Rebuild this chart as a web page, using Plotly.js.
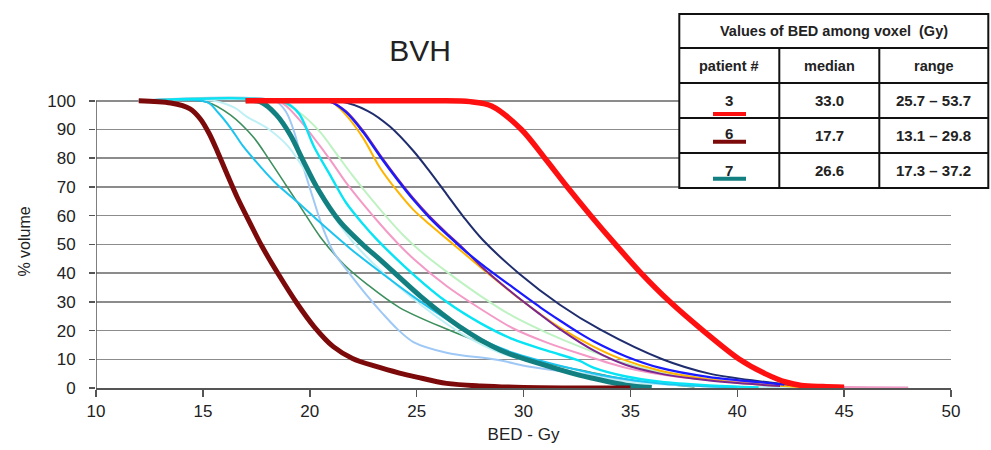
<!DOCTYPE html>
<html>
<head>
<meta charset="utf-8">
<script src="https://cdn.plot.ly/plotly-3.0.1.min.js"></script>
<style>
html,body{margin:0;padding:0;background:#fff;}
#chart{width:991px;height:450px;}
</style>
</head>
<body>
<div id="chart"></div>
<script>
// ---------- DATA ----------
const xTicks = [10, 15, 20, 25, 30, 35, 40, 45, 50];
const yTicks = [0, 10, 20, 30, 40, 50, 60, 70, 80, 90, 100];

// thin curves (other patients)
const seaGreen_x = [12, 15.2, 16.3, 17.4, 18.1, 18.9, 19.7, 20.5, 21.6, 22.7, 24.2, 26.4, 28, 29.5, 31.1, 32.6, 35, 38];
const seaGreen_y = [100, 99.5, 95, 87, 79.5, 70.5, 61.5, 52.5, 43, 36, 28, 20.5, 15.8, 11.8, 8.6, 6.3, 2.8, 0.4];

const skyBlue_x = [12, 15.2, 15.7, 16.3, 16.9, 17.7, 18.45, 19.4, 20.5, 21.9, 23.1, 24.85, 26.4, 28, 29.5, 31.9, 34, 36.5, 40];
const skyBlue_y = [100, 99.5, 96, 90.5, 84, 77, 71, 64.9, 57.5, 48.5, 41.5, 31.8, 24, 17, 12.3, 7.4, 4, 1.5, 0.2];

const lightBlue_x = [12, 18.4, 18.9, 19.3, 19.7, 20.2, 20.6, 21.1, 21.9, 22.7, 23.4, 24.1, 24.85, 26.4, 28.75, 30.3, 32.6, 35, 38, 42];
const lightBlue_y = [100, 99.8, 96, 88.5, 77, 65, 56, 47.5, 39.5, 32, 26, 20.5, 16, 12.3, 9.8, 7.4, 5.1, 2.5, 0.8, 0.2];

const paleTurq_x = [12, 15.5, 16.5, 17.05, 18.1, 19, 20, 21, 22, 23.3, 24.85, 27.2, 29, 31, 33, 35, 38, 42, 48];
const paleTurq_y = [100, 100, 97.5, 94.5, 90, 84, 73, 61, 51, 41, 31, 18.5, 12, 8, 4.5, 2, 0.8, 0.3, 0.1];

const cyan_x = [12, 18.8, 19.5, 20.2, 21, 21.7, 22.5, 23.1, 24.85, 26.4, 28, 29.5, 31.1, 32.6, 33.3, 34.8, 36.4, 38.5, 41];
const cyan_y = [100, 99.5, 95.5, 84, 73.5, 64.5, 57, 52, 39.5, 30, 22.5, 17, 13, 9.5, 7, 4, 2.2, 1, 0.2];

const pink_x = [12, 18.5, 19, 19.5, 20.2, 21, 21.7, 22.5, 23.3, 24.1, 24.85, 26.4, 28, 29.5, 31.1, 32.6, 34.8, 37.2, 41.1, 44, 48];
const pink_y = [100, 100, 97.5, 93.5, 87, 79, 71.5, 64, 57, 50.5, 45, 35.5, 27.5, 20.8, 15.8, 12, 7, 3.9, 1.6, 0.5, 0.2];

const paleGreen_x = [12, 18.5, 19.5, 20.5, 21.2, 22, 22.8, 23.6, 24.4, 25.2, 26.4, 28, 29.5, 31.1, 32.6, 34.8, 37, 40, 43, 46];
const paleGreen_y = [100, 100, 96, 89, 82, 74, 66.5, 59.5, 53, 47.5, 40.5, 32, 25, 19.2, 14.5, 8.5, 4.5, 1.8, 0.5, 0.2];

const orange_x = [20, 21, 21.7, 22.5, 23.3, 24.1, 24.85, 25.6, 26.4, 27.2, 28.4, 30, 31.7, 33.3, 34.5, 36.4, 38.7, 41, 43];
const orange_y = [100, 99.6, 95, 87, 76.5, 68.5, 62, 57, 52, 47, 39.5, 30, 21, 14.3, 10.3, 6, 3, 1.2, 0.3];

const purple_x = [20, 21, 21.7, 22.5, 23.3, 24.1, 24.85, 25.6, 26.4, 27.1, 28, 29.5, 30.8, 31.7, 33.3, 34.8, 36.4, 38, 40, 42];
const purple_y = [100, 99.6, 96.3, 89.5, 81, 73, 66, 59.8, 54, 49.2, 42.5, 33, 25.5, 20.5, 13, 8, 5, 3.2, 1.7, 0.7];

const blue_x = [20, 21, 21.7, 22.5, 23.3, 24.1, 24.85, 25.6, 26.4, 27.1, 28, 29.5, 30.8, 31.7, 32.6, 33.3, 34.8, 36.4, 38.7, 41.1, 42.2];
const blue_y = [100, 99.5, 96, 89, 80.5, 72.5, 65.5, 59.3, 53.5, 48.8, 43.3, 35, 28, 23.5, 19.2, 16.2, 11, 7, 3.8, 2, 1.2];

const navy_x = [20, 21.4, 22.7, 23.75, 24.85, 25.6, 26.4, 27.2, 28.1, 29.8, 31.7, 33.6, 36.5, 38.7, 41.1, 43, 45];
const navy_y = [100, 99.8, 96.5, 91, 82.5, 75.5, 67.5, 59.5, 51.5, 39.8, 29, 20.3, 10, 5, 2.3, 0.7, 0.2];

// highlighted patients
const p7_x = [17, 17.7, 18.45, 19.1, 19.7, 20.4, 21.4, 22.5, 23.3, 25.2, 27, 28.9, 30.8, 32.6, 33.3, 34.8, 36];
const p7_y = [100, 99.6, 95, 88, 79, 69, 58, 49.8, 44.6, 31.8, 21.4, 13.2, 8.4, 4.5, 3.3, 1, 0.2];

const p6_x = [12, 13.5, 14.4, 14.9, 15.3, 15.7, 16.1, 16.6, 17.2, 17.75, 18.6, 19.4, 20.2, 21.1, 22, 23.1, 24.2, 25, 26.4, 28, 30, 35];
const p6_y = [100, 99.2, 97.2, 93.5, 88.5, 82, 75, 66.5, 57.5, 49.5, 38.8, 29.5, 21.4, 14.4, 10.3, 7.5, 5.2, 3.8, 1.6, 0.7, 0.2, 0];

const p3_x = [17, 24, 26, 27.5, 28.5, 29.9, 31.0, 32.05, 33.15, 34.3, 35.5, 36.85, 38.4, 40.1, 41.3, 42.3, 43, 44, 45];
const p3_y = [100, 100, 100, 99.7, 98.2, 90, 80, 70, 60, 50, 40, 30, 20, 10, 5, 2, 0.9, 0.5, 0.3];

// table content
const tableTitle = 'Values of BED among voxel  (Gy)';
const tableHeader = ['patient #', 'median', 'range'];
const patients = ['3', '6', '7'];
const medians = ['33.0', '17.7', '26.6'];
const ranges = ['25.7 \u2013 53.7', '13.1 \u2013 29.8', '17.3 \u2013 37.2'];

// ---------- STYLES ----------
const series = [
  {x: seaGreen_x, y: seaGreen_y, color: '#3d8f5e', width: 1.6},
  {x: lightBlue_x, y: lightBlue_y, color: '#9ec8f5', width: 2},
  {x: paleTurq_x, y: paleTurq_y, color: '#bff0f6', width: 2},
  {x: skyBlue_x, y: skyBlue_y, color: '#1cc4f0', width: 2},
  {x: paleGreen_x, y: paleGreen_y, color: '#bff2c2', width: 2},
  {x: pink_x, y: pink_y, color: '#f49ac6', width: 2},
  {x: cyan_x, y: cyan_y, color: '#08e4f4', width: 2.4},
  {x: orange_x, y: orange_y, color: '#ffb400', width: 2},
  {x: navy_x, y: navy_y, color: '#1f2d6e', width: 2},
  {x: purple_x, y: purple_y, color: '#7b2590', width: 2},
  {x: blue_x, y: blue_y, color: '#1a1aff', width: 2.2},
  {x: p7_x, y: p7_y, color: '#128080', width: 5},
  {x: p6_x, y: p6_y, color: '#7d0a0a', width: 5},
  {x: p3_x, y: p3_y, color: '#ff1010', width: 5.5}
];
const underlineColors = ['#ff1010', '#7d0a0a', '#128080'];

const traces = series.map(s => ({
  type: 'scatter', mode: 'lines', x: s.x, y: s.y,
  line: {color: s.color, width: s.width, shape: 'spline', smoothing: 0.9},
  hoverinfo: 'skip', showlegend: false
}));

// geometry (pixels -> paper)
const L = 96, R = 951, T = 95.26, B = 388;
const W = R - L, H = B - T;
const PX = p => (p - L) / W;
const PY = p => (B - p) / H;

const shapes = [];
const annotations = [];

// left axis line from 0 to 100
shapes.push({type: 'line', xref: 'x', yref: 'y', x0: 10, x1: 10, y0: 0, y1: 100,
  line: {color: '#555', width: 1.5}, layer: 'above'});

// table
const tL = 679.3, tR = 988.3, tT = 14.3, tB = 188.3;
const rowLines = [48.3, 83.3, 118.3, 153.3];
const colLines = [779.3, 879.3];
shapes.push({type: 'rect', xref: 'paper', yref: 'paper', x0: PX(tL), x1: PX(tR), y0: PY(tB), y1: PY(tT),
  fillcolor: '#fff', line: {color: '#111', width: 2}, layer: 'above'});
rowLines.forEach(y => shapes.push({type: 'line', xref: 'paper', yref: 'paper',
  x0: PX(tL), x1: PX(tR), y0: PY(y), y1: PY(y), line: {color: '#111', width: 2}, layer: 'above'}));
colLines.forEach(x => shapes.push({type: 'line', xref: 'paper', yref: 'paper',
  x0: PX(x), x1: PX(x), y0: PY(rowLines[0]), y1: PY(tB), line: {color: '#111', width: 2}, layer: 'above'}));

const tFont = {family: 'Liberation Sans, Arial, sans-serif', size: 14, color: '#222'};
function txt(text, xp, yp, size) {
  annotations.push({text: '<b>' + text + '</b>', xref: 'paper', yref: 'paper', x: PX(xp), y: PY(yp),
    xanchor: 'center', yanchor: 'middle', showarrow: false,
    font: Object.assign({}, tFont, size ? {size: size} : {})});
}
txt(tableTitle, 833.8, 31.5, 14.5);
const colCenters = [729.3, 829.3, 933.8];
tableHeader.forEach((h, i) => txt(h, colCenters[i], 66.2, 14.5));
const numY = [101.2, 133.7, 170.2];
const valY = [101.2, 135.6, 170.6];
const ulY = [114.3, 142, 179];
patients.forEach((p, i) => {
  txt(p, colCenters[0], numY[i], 15);
  txt(medians[i], colCenters[1], valY[i], 15);
  txt(ranges[i], colCenters[2], valY[i], 15);
  shapes.push({type: 'line', xref: 'paper', yref: 'paper', x0: PX(713), x1: PX(746),
    y0: PY(ulY[i]), y1: PY(ulY[i]), line: {color: underlineColors[i], width: 4}, layer: 'above'});
});

const axFont = {family: 'Liberation Sans, Arial, sans-serif', size: 17, color: '#222'};

const layout = {
  width: 991, height: 450,
  margin: {l: L, r: 991 - R, t: T, b: 450 - B, pad: 0},
  paper_bgcolor: '#fff', plot_bgcolor: '#fff',
  showlegend: false,
  title: {text: 'BVH', x: 420 / 991, xanchor: 'center', y: 1 - 50 / 450, yanchor: 'middle',
    font: {family: 'Liberation Sans, Arial, sans-serif', size: 30, color: '#222'}},
  xaxis: {
    range: [10, 50], tickvals: xTicks, ticktext: xTicks.map(String),
    showgrid: false, zeroline: false, showline: true, linecolor: '#555', linewidth: 1.5,
    ticks: 'outside', ticklen: 7, tickcolor: '#555', tickwidth: 1.5,
    tickfont: axFont,
    title: {text: 'BED - Gy', font: axFont, standoff: 8}
  },
  yaxis: {
    range: [0, 102], tickvals: yTicks, ticktext: yTicks.map(String),
    showgrid: true, gridcolor: '#8c8c8c', gridwidth: 1.5,
    zeroline: false, showline: false,
    ticks: 'outside', ticklen: 6, tickcolor: '#555', tickwidth: 1.5,
    ticklabelstandoff: 10,
    tickfont: axFont,
    title: {text: '% volume', font: {family: 'Liberation Sans, Arial, sans-serif', size: 16, color: '#222'}, standoff: 12}
  },
  shapes: shapes,
  annotations: annotations
};

Plotly.newPlot('chart', traces, layout, {displayModeBar: false, staticPlot: true});
</script>
</body>
</html>
